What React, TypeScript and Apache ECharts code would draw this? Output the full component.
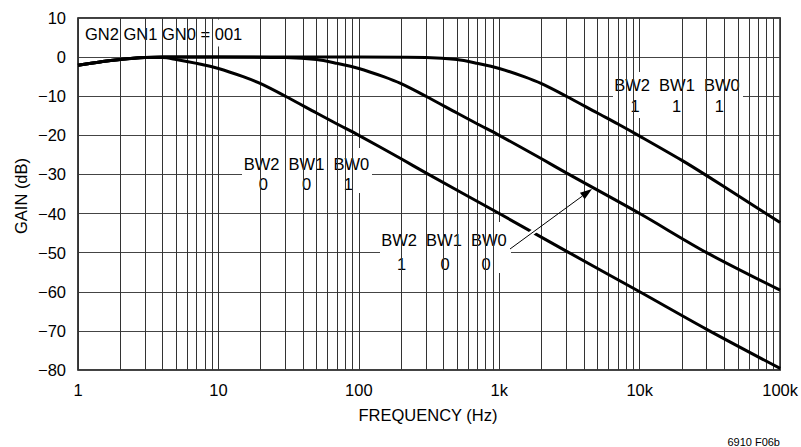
import React, { useEffect, useRef } from "react";
import * as echarts from "echarts";

// ---- data ----
const X_TICK_VALUES = [1, 10, 100, 1000, 10000, 100000];
const X_TICK_LABELS = ["1", "10", "100", "1k", "10k", "100k"];
const Y_TICKS = [-80, -70, -60, -50, -40, -30, -20, -10, 0, 10];

// BW2 BW1 BW0 = 001
const F_001 = [1, 1.5, 2, 3, 4, 5, 7, 10, 15, 20, 30, 50, 70, 100, 200, 300, 1000, 3000, 10000, 30000, 100000];
const G_001 = [-2.1, -1.1, -0.6, -0.1, -0.1, -0.6, -1.6, -2.9, -5.0, -6.8, -10, -14.3, -17.1, -20, -26, -29.6, -40, -49.6, -60, -69.6, -79.6];

// BW2 BW1 BW0 = 100
const F_100 = [1, 1.5, 2, 3, 4, 10, 30, 50, 70, 100, 150, 200, 300, 500, 700, 1000, 2000, 3000, 10000, 30000, 100000];
const G_100 = [-2.1, -1.1, -0.6, -0.1, 0, 0, -0.1, -0.6, -1.6, -2.9, -5.0, -6.8, -10, -14.3, -17.1, -20, -26, -29.6, -40, -50, -59.6];

// BW2 BW1 BW0 = 111
const F_111 = [1, 1.5, 2, 3, 4, 10, 100, 300, 500, 700, 1000, 1500, 2000, 3000, 5000, 7000, 10000, 20000, 30000, 50000, 100000];
const G_111 = [-2.1, -1.1, -0.6, -0.1, 0, 0, 0, -0.1, -0.6, -1.6, -2.9, -5.0, -6.8, -10, -14.3, -17.1, -20.2, -26.4, -30.3, -35.4, -42.3];

const MINOR_MULTIPLIERS = [2, 3, 4, 5, 6, 7, 8, 9];

const FONT = "'Liberation Sans', Arial, Helvetica, sans-serif";

export default function App() {
  const ref = useRef<HTMLDivElement>(null);

  useEffect(() => {
    if (!ref.current) return;
    const chart = echarts.init(ref.current, undefined, { renderer: "svg" });

    const minorLines: { xAxis: number }[] = [];
    X_TICK_VALUES.slice(0, -1).forEach((d) => {
      MINOR_MULTIPLIERS.forEach((m) => minorLines.push({ xAxis: d * m }));
    });

    const curve = (f: number[], g: number[], name: string) => ({
      name,
      type: "line",
      data: f.map((v, i) => [v, g[i]]),
      showSymbol: false,
      symbol: "none",
      smooth: 0.3,
      lineStyle: { color: "#000", width: 3 },
      z: 5,
      silent: true,
    });

    const txt = (text: string, x: number, y: number, extra: any = {}) => ({
      type: "text",
      z: 4,
      style: {
        text,
        x,
        y,
        fill: "#000",
        fontSize: 16.5,
        fontFamily: FONT,
        align: "center",
        verticalAlign: "middle",
        ...extra,
      },
    });
    const box = (x: number, y: number, w: number, h: number) => ({
      type: "rect",
      z: 3,
      shape: { x, y, width: w, height: h },
      style: { fill: "#fff" },
    });

    // arrow
    const ax1 = 510, ay1 = 249, ax2 = 592, ay2 = 189;
    const dx = ax2 - ax1, dy = ay2 - ay1;
    const len = Math.sqrt(dx * dx + dy * dy);
    const ux = dx / len, uy = dy / len;
    const hl = 12, hw = 4;
    const bx = ax2 - ux * hl, by = ay2 - uy * hl;
    const px = -uy * hw, py = ux * hw;

    chart.setOption({
      animation: false,
      grid: {
        left: 78,
        right: 20,
        top: 18,
        bottom: 77,
        show: true,
        borderColor: "#000",
        borderWidth: 1.5,
        backgroundColor: "#fff",
      },
      xAxis: {
        type: "log",
        logBase: 10,
        min: 1,
        max: 100000,
        splitNumber: 5,
        axisLine: { show: false },
        axisTick: { show: false },
        axisLabel: {
          color: "#000",
          fontSize: 16.5,
          fontFamily: FONT,
          margin: 11,
          formatter: (v: number) => {
            const i = X_TICK_VALUES.findIndex((t) => Math.abs(Math.log10(t) - Math.log10(v)) < 1e-6);
            return i >= 0 ? X_TICK_LABELS[i] : "";
          },
        },
        splitLine: { show: true, lineStyle: { color: "#333", width: 1 } },
      },
      yAxis: {
        type: "value",
        min: Y_TICKS[0],
        max: Y_TICKS[Y_TICKS.length - 1],
        interval: 10,
        axisLine: { show: false },
        axisTick: { show: false },
        axisLabel: {
          color: "#000",
          fontSize: 16.5,
          fontFamily: FONT,
          margin: 12,
          formatter: (v: number) => (v < 0 ? "\u2212" + Math.abs(v) : String(v)),
        },
        splitLine: { show: true, lineStyle: { color: "#444", width: 1 } },
      },
      series: [
        {
          name: "grid-minor",
          type: "line",
          data: [],
          z: 1,
          silent: true,
          markLine: {
            silent: true,
            symbol: ["none", "none"],
            label: { show: false },
            emphasis: { disabled: true },
            animation: false,
            lineStyle: { color: "#333", width: 1, type: "solid" },
            data: minorLines,
          },
        },
        curve(F_001, G_001, "001"),
        curve(F_100, G_100, "100"),
        curve(F_111, G_111, "111"),
      ],
      graphic: [
        box(79.5, 19.5, 162, 27),
        txt("GN2 GN1 GN0 = 001", 85, 33.5, { align: "left" }),

        box(242, 148, 130, 45),
        txt("BW2  BW1  BW0", 306.5, 164),
        txt("0", 263.3, 184),
        txt("0", 306.7, 184),
        txt("1", 348.3, 184),

        box(380, 222, 131, 51),
        txt("BW2  BW1  BW0", 444, 240),
        txt("1", 401.7, 264),
        txt("0", 445, 264),
        txt("0", 486, 264),

        box(613, 72, 130, 46),
        txt("BW2  BW1  BW0", 677, 85),
        txt("1", 635, 106),
        txt("1", 676.7, 106),
        txt("1", 719.3, 106),

        // gap in curve under arrow
        {
          type: "line",
          z: 6,
          shape: { x1: 527, y1: 236.4, x2: 539, y2: 227.6 },
          style: { stroke: "#fff", lineWidth: 5 },
        },
        {
          type: "line",
          z: 7,
          shape: { x1: ax1, y1: ay1, x2: bx, y2: by },
          style: { stroke: "#000", lineWidth: 1 },
        },
        {
          type: "polygon",
          z: 7,
          shape: {
            points: [
              [ax2, ay2],
              [bx + px, by + py],
              [bx - px, by - py],
            ],
          },
          style: { fill: "#000" },
        },

        txt("FREQUENCY (Hz)", 428, 415),
        {
          type: "text",
          z: 4,
          x: 20.5,
          y: 196,
          rotation: Math.PI / 2,
          style: {
            text: "GAIN (dB)",
            x: 0,
            y: 0,
            fill: "#000",
            fontSize: 16.5,
            fontFamily: FONT,
            align: "center",
            verticalAlign: "middle",
          },
        },
        txt("6910 F06b", 780, 442, { align: "right", fontSize: 11 }),
      ],
    });

    return () => chart.dispose();
  }, []);

  return (
    <div
      ref={ref}
      style={{ position: "absolute", left: 0, top: 0, width: 801, height: 447 }}
    />
  );
}
